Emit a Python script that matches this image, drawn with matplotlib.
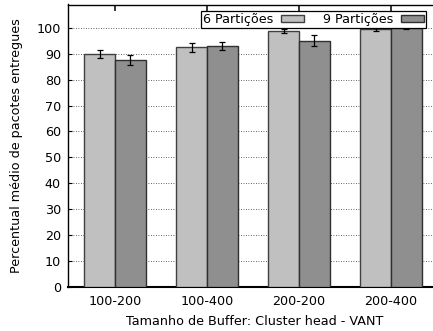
import numpy as np
import matplotlib.pyplot as plt
import matplotlib.transforms as mtransforms

categories = ['100-200', '100-400', '200-200', '200-400']
part6 = [89.8, 92.5, 98.8, 99.4]
part6_err = [1.5, 1.7, 0.7, 0.5]
part9 = [87.5, 93.1, 95.1, 99.9]
part9_err = [2.0, 1.6, 2.2, 0.3]

fig = plt.figure(figsize=(4.33, 3.31), dpi=100)
ax = fig.add_axes([68/433, (331-287)/331, (441-68)/433, (287-4.5)/331])

x = np.arange(len(categories))
w = 0.335
err_kw = dict(ecolor='black', elinewidth=0.9, capsize=2.3, capthick=0.9)
ax.bar(x - w/2, part6, w, yerr=part6_err, color='#c0c0c0', edgecolor='#404040',
       linewidth=1.0, label='6 Partições', error_kw=err_kw, zorder=3)
ax.bar(x + w/2, part9, w, yerr=part9_err, color='#8f8f8f', edgecolor='#303030',
       linewidth=1.0, label='9 Partições', error_kw=err_kw, zorder=3)

ax.set_xlim(-0.511, 3 + 50/92)
ax.set_ylim(0, 109)
ax.set_yticks(range(0, 101, 10))
ax.set_xticks(x)
ax.set_xticklabels(categories)
# grid and ticks sit at the default axis zorder (2.5), under the bars
ax.yaxis.grid(True, linestyle=(0, (1, 2)), color='#333333', linewidth=0.6)

ax.tick_params(axis='x', direction='in', top=False, bottom=False,
               labelsize=9.2, pad=6)
ax.tick_params(axis='y', direction='in', length=3, labelsize=9.2, pad=5)
for s in ax.spines.values():
    s.set_linewidth(1.0)
ax.spines['bottom'].set_linewidth(1.5)

# mirrored category ticks hanging from the top border
trans = mtransforms.blended_transform_factory(ax.transData, ax.transAxes)
ax.vlines(x, 1 - 6/282.5, 1, transform=trans, colors='black',
          linewidth=1.1, zorder=6, clip_on=False)

ax.set_xlabel('Tamanho de Buffer: Cluster head - VANT', fontsize=9.2, labelpad=5)
ax.set_ylabel('Percentual médio de pacotes entregues', fontsize=9.2, labelpad=10)

leg = ax.legend(loc='upper right', bbox_to_anchor=((426-68)/373, 1 - 6.5/282.5),
                ncol=2, markerfirst=False, fancybox=False, framealpha=1,
                edgecolor='black', fontsize=9.2, handlelength=1.8,
                handleheight=0.55, borderpad=0.15, columnspacing=1.5,
                handletextpad=0.6, borderaxespad=0)
leg.get_frame().set_linewidth(0.9)

fig.savefig('out.png', dpi=100)
